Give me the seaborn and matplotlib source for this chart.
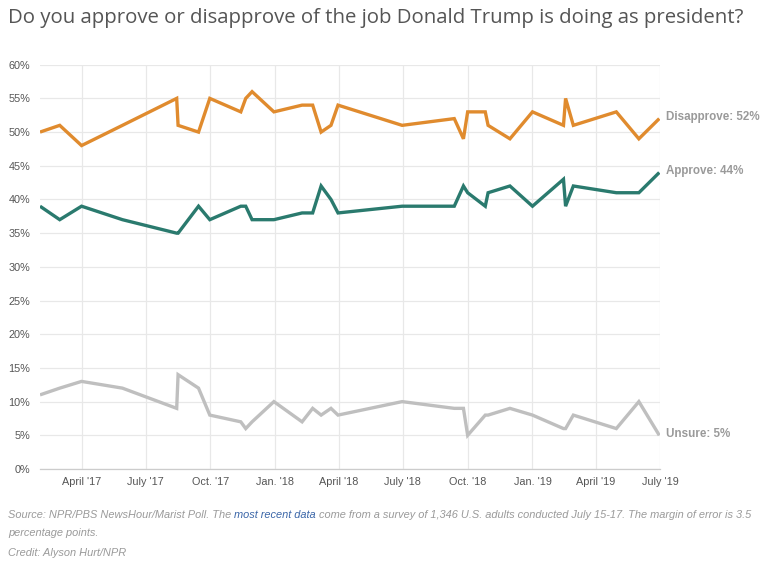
import matplotlib
matplotlib.use("Agg")
import matplotlib.pyplot as plt
import matplotlib.dates as mdates
import seaborn as sns
import pandas as pd

# ---------------- data ----------------
dates = ["2017-02-01", "2017-03-01", "2017-04-01", "2017-05-29", "2017-08-14",
         "2017-08-16", "2017-09-14", "2017-09-30", "2017-11-13", "2017-11-20",
         "2017-11-29", "2017-12-30", "2018-02-08", "2018-02-23", "2018-03-07",
         "2018-03-21", "2018-03-31", "2018-06-30", "2018-09-12", "2018-09-25",
         "2018-10-01", "2018-10-26", "2018-10-30", "2018-11-30", "2019-01-01",
         "2019-02-14", "2019-02-17", "2019-02-28", "2019-04-30", "2019-06-01",
         "2019-06-30"]
approve = [39, 37, 39, 37, 35, 35, 39, 37, 39, 39, 37, 37, 38, 38, 42, 40,
           38, 39, 39, 42, 41, 39, 41, 42, 39, 43, 39, 42, 41, 41, 44]
disapprove = [50, 51, 48, 51, 55, 51, 50, 55, 53, 55, 56, 53, 54, 54, 50, 51,
              54, 51, 52, 49, 53, 53, 51, 49, 53, 51, 55, 51, 53, 49, 52]
unsure = [11, 12, 13, 12, 9, 14, 12, 8, 7, 6, 7, 10, 7, 9, 8, 9,
          8, 10, 9, 9, 5, 8, 8, 9, 8, 6, 6, 8, 6, 10, 5]
series_names = ["Disapprove", "Approve", "Unsure"]
tick_dates = ["2017-04-01", "2017-07-01", "2017-10-01", "2018-01-01", "2018-04-01",
              "2018-07-01", "2018-10-01", "2019-01-01", "2019-04-01", "2019-07-01"]
tick_labels = ["April '17", "July '17", "Oct. '17", "Jan. '18", "April '18",
               "July '18", "Oct. '18", "Jan. '19", "April '19", "July '19"]
y_ticks = [0, 5, 10, 15, 20, 25, 30, 35, 40, 45, 50, 55, 60]

title = "Do you approve or disapprove of the job Donald Trump is doing as president?"
source_a = "Source: NPR/PBS NewsHour/Marist Poll. The "
source_link = "most recent data"
source_b = " come from a survey of 1,346 U.S. adults conducted July 15-17. The margin of error is 3.5"
source_c = "percentage points."
credit = "Credit: Alyson Hurt/NPR"

colors = {"Disapprove": "#e08b2e", "Approve": "#2a7a6e", "Unsure": "#bfbfbf"}

# ---------------- frame ----------------
d = pd.to_datetime(dates)
df = pd.concat([
    pd.DataFrame({"date": d, "value": disapprove, "series": "Disapprove"}),
    pd.DataFrame({"date": d, "value": approve, "series": "Approve"}),
    pd.DataFrame({"date": d, "value": unsure, "series": "Unsure"}),
], ignore_index=True)

sns.set_theme(style="white")
plt.rcParams["font.family"] = ["Liberation Sans", "DejaVu Sans"]

W, H = 772, 565
fig = plt.figure(figsize=(W / 100, H / 100), dpi=100)
ax = fig.add_axes([40 / W, 1 - 469 / H, 620 / W, (469 - 64.7) / H])

td = pd.to_datetime(tick_dates)
ax.set_axisbelow(True)

sns.lineplot(data=df, x="date", y="value", hue="series", hue_order=series_names,
             palette=colors, linewidth=2.4, estimator=None, legend=False, ax=ax)
for line in ax.get_lines():
    line.set_solid_joinstyle("miter")
    line.set_solid_capstyle("butt")

xmin = d.min()
xmax = max(d.max(), td.max())
ax.set_xlim(xmin, xmax)
ax.set_ylim(0, 60)
ax.set_yticks(y_ticks)
ax.set_yticklabels([f"{v}%" for v in y_ticks])
ax.set_xticks(td)
ax.set_xticklabels(tick_labels)
ax.set_xticks([xmin, xmax], minor=True)

ax.grid(True, which="major", color="#e8e8e8", linewidth=0.9)
ax.tick_params(axis="both", which="major", length=0, labelsize=7.8, labelcolor="#555555")
ax.tick_params(axis="y", pad=7)
ax.tick_params(axis="x", pad=6)
ax.tick_params(axis="x", which="minor", length=5, width=0.9, color="#cccccc", direction="out")
ax.set_xlabel("")
ax.set_ylabel("")
for s in ["top", "right", "left"]:
    ax.spines[s].set_visible(False)
ax.spines["bottom"].set_color("#cccccc")
ax.spines["bottom"].set_linewidth(0.9)

# end labels
last = {"Disapprove": disapprove[-1], "Approve": approve[-1], "Unsure": unsure[-1]}
for name in series_names:
    ax.annotate(f"{name}: {last[name]}%", xy=(d[-1], last[name]), xytext=(4.5, 1.2),
                textcoords="offset points", ha="left", va="center", fontsize=8.4,
                fontweight="bold", color="#9a9a9a", annotation_clip=False)

# title
t = fig.text(8 / W, 1 - 23 / H, title, fontsize=13, color="#555555",
             family=["Open Sans", "DejaVu Sans"], va="baseline", ha="left")
fig.canvas.draw()
r = fig.canvas.get_renderer()
w = t.get_window_extent(r).width
t.set_fontsize(13 * 734 / w)

# footer
fs = 7.3 * 744 / 689
fc = "#9a9a9a"
f1 = fig.text(8 / W, 1 - 520 / H, source_a, fontsize=fs, style="italic", color=fc, va="bottom")
f2 = fig.text(0, 0, source_link, fontsize=fs, style="italic", color="#3b66a8", va="bottom")
f3 = fig.text(0, 0, source_b, fontsize=fs, style="italic", color=fc, va="bottom")
fig.canvas.draw()
b1 = f1.get_window_extent(r)
f2.set_position((b1.x1 / W, b1.y0 / H))
fig.canvas.draw()
b2 = f2.get_window_extent(r)
f3.set_position((b2.x1 / W, b2.y0 / H))
fig.text(8 / W, 1 - 538 / H, source_c, fontsize=fs, style="italic", color=fc, va="bottom")
fig.text(8 / W, 1 - 558 / H, credit, fontsize=fs, style="italic", color=fc, va="bottom")

fig.savefig("out.png", dpi=100, facecolor="white")
